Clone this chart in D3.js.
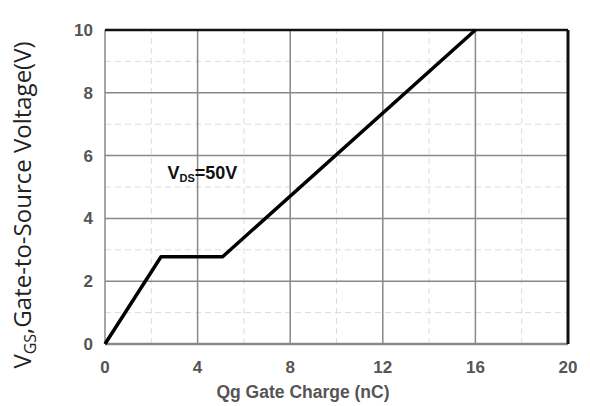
<html lang="en">
<head>
<meta charset="utf-8">
<script src="https://d3js.org/d3.v7.min.js"></script>
<style>
  body { margin: 0; background: #fff; }
  svg text { font-family: "Liberation Sans", Arial, sans-serif; }
</style>
</head>
<body>
<svg id="chart" width="590" height="406"></svg>
<script>
// data
const qg = [0, 2.42, 5.08, 16];
const vgs = [0, 2.78, 2.78, 10];
const xTicks = [0, 4, 8, 12, 16, 20];
const yTicks = [0, 2, 4, 6, 8, 10];
const xMinor = [2, 6, 10, 14, 18];
const yMinor = [1, 3, 5, 7, 9];

const margin = {top: 30, right: 22, bottom: 62, left: 105};
const width = 590, height = 406;
const svg = d3.select("#chart");

const x = d3.scaleLinear().domain([0, 20]).range([margin.left, width - margin.right]);
const y = d3.scaleLinear().domain([0, 10]).range([height - margin.bottom, margin.top]);

// minor dashed grid
svg.append("g").selectAll("line").data(xMinor).join("line")
  .attr("x1", d => x(d)).attr("x2", d => x(d))
  .attr("y1", y(0)).attr("y2", y(10))
  .attr("stroke", "#ddd").attr("stroke-width", 1).attr("stroke-dasharray", "6,4");
svg.append("g").selectAll("line").data(yMinor).join("line")
  .attr("y1", d => y(d)).attr("y2", d => y(d))
  .attr("x1", x(0)).attr("x2", x(20))
  .attr("stroke", "#ddd").attr("stroke-width", 1).attr("stroke-dasharray", "6,4");

// major grid
svg.append("g").selectAll("line").data(xTicks).join("line")
  .attr("x1", d => x(d)).attr("x2", d => x(d))
  .attr("y1", y(0)).attr("y2", y(10))
  .attr("stroke", "#888").attr("stroke-width", 1.5);
svg.append("g").selectAll("line").data(yTicks).join("line")
  .attr("y1", d => y(d)).attr("y2", d => y(d))
  .attr("x1", x(0)).attr("x2", x(20))
  .attr("stroke", "#888").attr("stroke-width", 1.5);

// frame: bottom gray, top and right black
svg.append("line").attr("x1", x(0)).attr("x2", x(20)).attr("y1", y(0)).attr("y2", y(0))
  .attr("stroke", "#888").attr("stroke-width", 2.5);
svg.append("line").attr("x1", x(0)).attr("x2", x(20)).attr("y1", y(10)).attr("y2", y(10))
  .attr("stroke", "#111").attr("stroke-width", 2.5);
svg.append("line").attr("x1", x(20)).attr("x2", x(20)).attr("y1", y(10)).attr("y2", y(0))
  .attr("stroke", "#111").attr("stroke-width", 3);

// tick labels
svg.append("g").selectAll("text").data(xTicks).join("text")
  .attr("x", d => x(d)).attr("y", y(0) + 29)
  .attr("text-anchor", "middle").attr("font-size", 17).attr("font-weight", "bold")
  .attr("fill", "#555").text(d => d);
svg.append("g").selectAll("text").data(yTicks).join("text")
  .attr("x", x(0) - 12).attr("y", d => y(d) + 6)
  .attr("text-anchor", "end").attr("font-size", 17).attr("font-weight", "bold")
  .attr("fill", "#555").text(d => d);

// curve
const line = d3.line().x(d => x(d[0])).y(d => y(d[1]));
svg.append("path").datum(d3.zip(qg, vgs))
  .attr("d", line).attr("fill", "none")
  .attr("stroke", "#000").attr("stroke-width", 3.5).attr("stroke-linejoin", "round");

// annotation
const ann = svg.append("text").attr("x", x(2.7)).attr("y", y(5.25))
  .attr("font-size", 18).attr("font-weight", "bold").attr("fill", "#111");
ann.append("tspan").text("V");
ann.append("tspan").attr("font-size", 11).attr("dy", 3).text("DS");
ann.append("tspan").attr("dy", -3).text("=50V");

// axis titles
svg.append("text").attr("x", 303).attr("y", 398)
  .attr("text-anchor", "middle").attr("font-size", 17.5).attr("font-weight", "bold")
  .attr("fill", "#555").text("Qg Gate Charge (nC)");

const yl = svg.append("text")
  .attr("transform", "translate(31,205) rotate(-90)")
  .attr("text-anchor", "middle").attr("font-size", 24)
  .attr("fill", "#222").style("font-family", "'Open Sans', 'Noto Sans', sans-serif");
yl.append("tspan").text("V");
yl.append("tspan").attr("font-size", 16).attr("dy", 5).text("GS");
yl.append("tspan").attr("dy", -5).text(",Gate-to-Source Voltage(V)");
</script>
</body>
</html>
